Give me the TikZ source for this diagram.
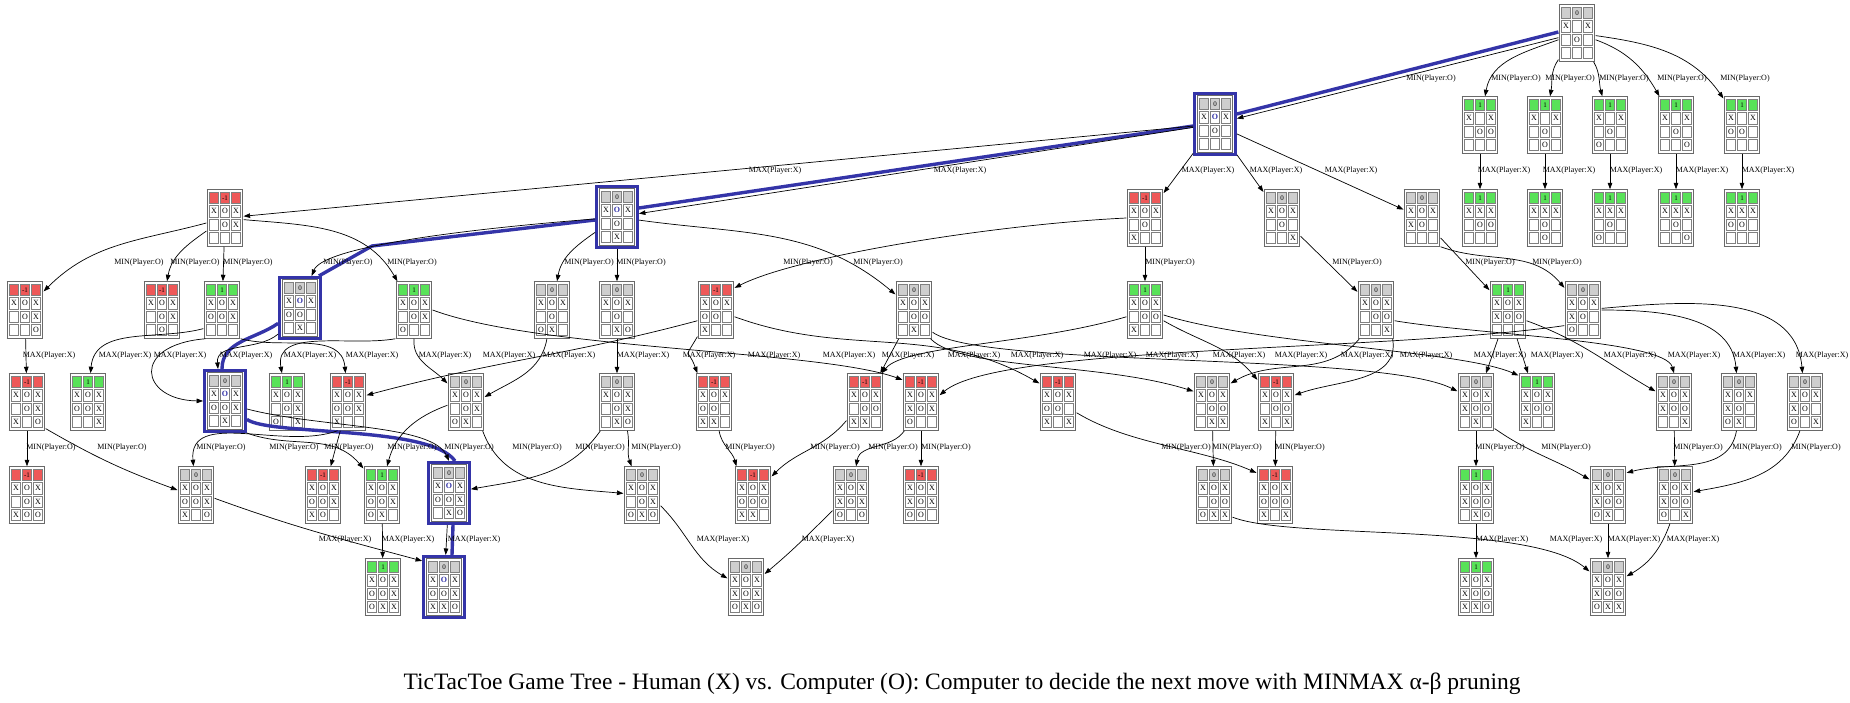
\documentclass[tikz,border=0pt]{standalone}
\usepackage{fontspec}
\setmainfont{Liberation Serif}
\usetikzlibrary{arrows.meta}

\definecolor{valred}{RGB}{238,88,88}
\definecolor{valgreen}{RGB}{88,226,88}
\definecolor{valgray}{RGB}{206,206,206}
\definecolor{cellline}{RGB}{128,128,128}
\definecolor{frameline}{RGB}{105,105,105}
\definecolor{pathblue}{RGB}{52,52,168}

% one cell of a board
\newcommand{\cel}[2]{{\setlength{\fboxsep}{0pt}\setlength{\fboxrule}{0.6pt}%
  \fcolorbox{cellline}{#1}{\makebox[8.4pt]{\rule[-2.9pt]{0pt}{10.7pt}#2}}}}
% . = empty, b = the chosen O
\newcommand{\csym}[1]{\if#1.\else\if#1b\textcolor{pathblue}{\bfseries O}\else#1\fi\fi}
\newcommand{\brow}[3]{\hbox{\cel{white}{\csym#1}\hskip1.5pt\cel{white}{\csym#2}\hskip1.5pt\cel{white}{\csym#3}}}
% value row + 3x3 board
\newcommand{\board}[5]{{\setlength{\fboxsep}{1.5pt}\setlength{\fboxrule}{1pt}%
  \fcolorbox{frameline}{white}{\vbox{\offinterlineskip\fontsize{8}{8}\selectfont
    \hbox{\cel{#1}{}\hskip1.5pt\cel{#1}{\fontsize{7}{7}\selectfont#2}\hskip1.5pt\cel{#1}{}}%
    \vskip1.5pt\brow#3\vskip1.5pt\brow#4\vskip1.5pt\brow#5}}}}

\begin{document}
\begin{tikzpicture}[x=1pt,y=-1pt,
  brd/.style={inner sep=0pt},
  chosen/.style={draw=pathblue,line width=2.6pt,inner sep=2.2pt},
  lbl/.style={font=\fontsize{8}{9}\selectfont,inner sep=0pt},
  mv/.style={draw,line width=0.7pt,-{Triangle[length=6.5pt,width=4.6pt]}},
  hl/.style={draw=pathblue,line width=3.4pt,line join=round}]
\useasboundingbox (0,0) rectangle (1850,702);

% level 0
\node[brd] (root) at (1577,33) {\board{valgray}{0}{X.X}{.O.}{...}};
% level 1
\node[chosen] (a) at (1215,124) {\board{valgray}{0}{XbX}{.O.}{...}};
\node[brd] (g1) at (1480,125) {\board{valgreen}{1}{X.X}{.OO}{...}};
\node[brd] (g2) at (1545,125) {\board{valgreen}{1}{X.X}{.O.}{.O.}};
\node[brd] (g3) at (1610,125) {\board{valgreen}{1}{X.X}{.O.}{O..}};
\node[brd] (g4) at (1676,125) {\board{valgreen}{1}{X.X}{.O.}{..O}};
\node[brd] (g5) at (1742,125) {\board{valgreen}{1}{X.X}{OO.}{...}};
% level 2
\node[brd] (ra) at (225,218) {\board{valred}{-1}{XOX}{.OX}{...}};
\node[chosen] (b) at (617,217) {\board{valgray}{0}{XbX}{.O.}{.X.}};
\node[brd] (rb) at (1145,218) {\board{valred}{-1}{XOX}{.O.}{X..}};
\node[brd] (rc) at (1282,218) {\board{valgray}{0}{XOX}{.O.}{..X}};
\node[brd] (rd) at (1422,218) {\board{valgray}{0}{XOX}{XO.}{...}};
\node[brd] (h1) at (1480,218) {\board{valgreen}{1}{XXX}{.OO}{...}};
\node[brd] (h2) at (1545,218) {\board{valgreen}{1}{XXX}{.O.}{.O.}};
\node[brd] (h3) at (1610,218) {\board{valgreen}{1}{XXX}{.O.}{O..}};
\node[brd] (h4) at (1676,218) {\board{valgreen}{1}{XXX}{.O.}{..O}};
\node[brd] (h5) at (1742,218) {\board{valgreen}{1}{XXX}{OO.}{...}};
% level 3
\node[brd] (s1) at (25,310) {\board{valred}{-1}{XOX}{.OX}{..O}};
\node[brd] (s2) at (162,310) {\board{valred}{-1}{XOX}{.OX}{.O.}};
\node[brd] (s3) at (222,310) {\board{valgreen}{1}{XOX}{OOX}{...}};
\node[chosen] (c) at (300,308) {\board{valgray}{0}{XbX}{OO.}{.X.}};
\node[brd] (s5) at (414,310) {\board{valgreen}{1}{XOX}{.OX}{O..}};
\node[brd] (s6) at (552,310) {\board{valgray}{0}{XOX}{.O.}{OX.}};
\node[brd] (s7) at (617,310) {\board{valgray}{0}{XOX}{.O.}{.XO}};
\node[brd] (s8) at (716,310) {\board{valred}{-1}{XOX}{OO.}{X..}};
\node[brd] (s9) at (914,310) {\board{valgray}{0}{XOX}{.OO}{.X.}};
\node[brd] (s10) at (1145,310) {\board{valgreen}{1}{XOX}{.OO}{X..}};
\node[brd] (s11) at (1376,310) {\board{valgray}{0}{XOX}{.OO}{..X}};
\node[brd] (s12) at (1508,310) {\board{valgreen}{1}{XOX}{XOO}{...}};
\node[brd] (s13) at (1583,310) {\board{valgray}{0}{XOX}{XO.}{O..}};
% level 4
\node[brd] (t1) at (27,402) {\board{valred}{-1}{XOX}{.OX}{X.O}};
\node[brd] (t2) at (88,402) {\board{valgreen}{1}{XOX}{OOX}{..X}};
\node[chosen] (d) at (225,401) {\board{valgray}{0}{XbX}{OOX}{.X.}};
\node[brd] (t4) at (287,402) {\board{valgreen}{1}{XOX}{.OX}{O.X}};
\node[brd] (t5) at (348,402) {\board{valred}{-1}{XOX}{OOX}{X..}};
\node[brd] (t6) at (466,402) {\board{valgray}{0}{XOX}{.OX}{OX.}};
\node[brd] (t7) at (617,402) {\board{valgray}{0}{XOX}{.OX}{.XO}};
\node[brd] (t8) at (714,402) {\board{valred}{-1}{XOX}{OO.}{XX.}};
\node[brd] (t9) at (865,402) {\board{valred}{-1}{XOX}{.OO}{XX.}};
\node[brd] (t10) at (921,402) {\board{valred}{-1}{XOX}{XOX}{O..}};
\node[brd] (t11) at (1058,402) {\board{valred}{-1}{XOX}{OO.}{X.X}};
\node[brd] (t12) at (1212,402) {\board{valgray}{0}{XOX}{.OO}{.XX}};
\node[brd] (t13) at (1276,402) {\board{valred}{-1}{XOX}{.OO}{X.X}};
\node[brd] (t14) at (1476,402) {\board{valgray}{0}{XOX}{XOO}{.X.}};
\node[brd] (t15) at (1537,402) {\board{valgreen}{1}{XOX}{XOO}{X..}};
\node[brd] (t16) at (1674,402) {\board{valgray}{0}{XOX}{XOO}{..X}};
\node[brd] (t17) at (1739,402) {\board{valgray}{0}{XOX}{XO.}{OX.}};
\node[brd] (t18) at (1805,402) {\board{valgray}{0}{XOX}{XO.}{O.X}};
% level 5
\node[brd] (u1) at (27,495) {\board{valred}{-1}{XOX}{.OX}{XOO}};
\node[brd] (u2) at (196,495) {\board{valgray}{0}{XOX}{OOX}{X.O}};
\node[brd] (u3) at (323,495) {\board{valred}{-1}{XOX}{OOX}{XO.}};
\node[brd] (u4) at (382,495) {\board{valgreen}{1}{XOX}{OOX}{OX.}};
\node[chosen] (e) at (449,493) {\board{valgray}{0}{XbX}{OOX}{.XO}};
\node[brd] (u6) at (642,495) {\board{valgray}{0}{XOX}{.OX}{OXO}};
\node[brd] (u7) at (753,495) {\board{valred}{-1}{XOX}{OOO}{XX.}};
\node[brd] (u8) at (851,495) {\board{valgray}{0}{XOX}{XOX}{O.O}};
\node[brd] (u9) at (921,495) {\board{valred}{-1}{XOX}{XOX}{OO.}};
\node[brd] (u10) at (1214,495) {\board{valgray}{0}{XOX}{.OO}{OXX}};
\node[brd] (u11) at (1275,495) {\board{valred}{-1}{XOX}{OOO}{X.X}};
\node[brd] (u12) at (1476,495) {\board{valgreen}{1}{XOX}{XOO}{.XO}};
\node[brd] (u13) at (1608,495) {\board{valgray}{0}{XOX}{XOO}{OX.}};
\node[brd] (u14) at (1675,495) {\board{valgray}{0}{XOX}{XOO}{O.X}};
% level 6
\node[brd] (v1) at (383,587) {\board{valgreen}{1}{XOX}{OOX}{OXX}};
\node[chosen] (f) at (444,587) {\board{valgray}{0}{XbX}{OOX}{XXO}};
\node[brd] (v3) at (746,587) {\board{valgray}{0}{XOX}{XOX}{OXO}};
\node[brd] (v4) at (1476,587) {\board{valgreen}{1}{XOX}{XOO}{XXO}};
\node[brd] (v5) at (1608,587) {\board{valgray}{0}{XOX}{XOO}{OXX}};

% chosen line
\draw[hl] ([yshift=1pt]root.west) -- ([yshift=10pt]a.east);
\draw[hl] ([yshift=-2pt]a.west) -- ([yshift=9pt]b.east);
\draw[hl] ([yshift=-3pt]b.west) -- (372,246) -- ([xshift=-3pt]c.north east);
\draw[hl] (c.215) to[out=215,in=90] ([xshift=-3pt]d.north);
\draw[hl] (d.320) .. controls (270,436) and (430,425) .. ([xshift=6pt]e.north);
\draw[hl] ([xshift=4pt]e.south) -- ([xshift=8pt]f.north);

% level 0 -> 1
\draw[mv] (root) -- (a);
\draw[mv] (root) to[out=200,in=80] (g1);
\draw[mv] (root) to[out=235,in=80] (g2);
\draw[mv] (root) to[out=300,in=105] (g3);
\draw[mv] (root) to[out=340,in=120] (g4);
\draw[mv] (root) to[out=-8,in=125] (g5);
% level 1 -> 2
\draw[mv] (a) -- (ra);
\draw[mv] (a) -- (b);
\draw[mv] (a) -- (rb);
\draw[mv] (a) -- (rc);
\draw[mv] (a) -- (rd);
\foreach \i in {1,...,5} \draw[mv] (g\i) -- (h\i);
% level 2 -> 3
\draw[mv] (ra) to[out=195,in=45] (s1);
\draw[mv] (ra) to[out=215,in=80] (s2);
\draw[mv] (ra) -- (s3);
\draw[mv] (ra) to[out=-5,in=120] (s5);
\draw[mv] (b.185) .. controls (430,232) and (322,250) .. (c.70);
\draw[mv] (b) to[out=215,in=80] (s6);
\draw[mv] (b) -- (s7);
\draw[mv] (b) to[out=-8,in=140] (s9);
\draw[mv] (rb.180) .. controls (1000,224) and (800,255) .. (s8.50);
\draw[mv] (rb) -- (s10);
\draw[mv] (rc) -- (s11);
\draw[mv] (rd) -- (s12);
\draw[mv] (rd.south east) to[out=-20,in=130] (s13);
% level 3 -> 4
\draw[mv] (s1) -- (t1);
\draw[mv] (s3.225) to[out=195,in=85] (t2);
\draw[mv] (s3.240) .. controls (130,345) and (140,400) .. (d.west);
\draw[mv] (c.230) to[out=220,in=95] ([xshift=-7pt]d.north);
\draw[mv] (s5.south west) to[out=190,in=100] (t4);
\draw[mv] (s3.south east) to[out=-15,in=95] (t5);
\draw[mv] (s8.210) to[out=195,in=15] (t5.20);
\draw[mv] (s5.270) to[out=265,in=135] (t6.135);
\draw[mv] (s6.260) to[out=260,in=30] (t6.15);
\draw[mv] (s7) -- (t7);
\draw[mv] (s8.235) to[out=240,in=110,looseness=2] (t8.120);
\draw[mv] (s9) -- (t9);
\draw[mv] (s10.200) .. controls (1030,345) and (905,345) .. (t9.60);
\draw[mv] (s5.east) .. controls (540,350) and (820,350) .. (t10.130);
\draw[mv] (s13.220) .. controls (1380,352) and (1000,345) .. (t10.20);
\draw[mv] (s8.340) to[out=-20,in=150] (t11.135);
\draw[mv] (s11.240) to[out=230,in=30] (t12.45);
\draw[mv] (s9.300) .. controls (960,370) and (1100,362) .. (t12.150);
\draw[mv] (s11.300) to[out=280,in=20] (t13.20);
\draw[mv] (s10.330) to[out=-30,in=130] (t13.130);
\draw[mv] (s9.310) .. controls (980,368) and (1380,352) .. (t14.150);
\draw[mv] (s12) -- (t14);
\draw[mv] (s10.345) .. controls (1260,345) and (1460,350) .. (t15.125);
\draw[mv] (s12) -- (t15);
\draw[mv] (s11.330) .. controls (1480,335) and (1665,340) .. (t16.north);
\draw[mv] (s12.330) to[out=-20,in=150] (t16.150);
\draw[mv] (s13) to[out=0,in=95] (t17);
\draw[mv] (s13) to[out=5,in=95] (t18);
% level 4 -> 5
\draw[mv] (t1) -- (u1);
\draw[mv] (t1.305) to[out=-30,in=160] (u2.165);
\draw[mv] (t5.250) to[out=200,in=95] (u2.95);
\draw[mv] (t5) -- (u3);
\draw[mv] (d.south east) to[out=-20,in=130] (u4.125);
\draw[mv] (d.340) .. controls (320,428) and (432,424) .. (e.north);
\draw[mv] (t6.190) to[out=200,in=75] (u4.80);
\draw[mv] (t6.300) to[out=290,in=175] (u6.175);
\draw[mv] (t7.240) to[out=235,in=10] (e.10);
\draw[mv] (t7.290) to[out=280,in=110] (u6.110);
\draw[mv] (t8.280) to[out=280,in=105] (u7.120);
\draw[mv] (t9.225) to[out=230,in=45] (u7.45);
\draw[mv] (t10.240) to[out=235,in=80] (u8.80);
\draw[mv] (t10) -- (u9);
\draw[mv] (t11.330) .. controls (1130,445) and (1200,448) .. (u11.130);
\draw[mv] (t12) -- (u10);
\draw[mv] (t13) -- (u11);
\draw[mv] (t14) -- (u12);
\draw[mv] (t14.305) to[out=-35,in=150] (u13.140);
\draw[mv] (t16) -- (u14);
\draw[mv] (t17.265) to[out=260,in=15] (u13.50);
\draw[mv] (t18.260) to[out=250,in=10] (u14.10);
% level 5 -> 6
\draw[mv] (u2.350) to[out=-20,in=165] (f.130);
\draw[mv] (u4) -- (v1);
\draw[mv] (e) -- (f);
\draw[mv] (u6.330) to[out=-45,in=150] (v3.155);
\draw[mv] (u8.220) to[out=225,in=40] (v3.35);
\draw[mv] (u12) -- (v4);
\draw[mv] (u10.310) .. controls (1290,540) and (1530,522) .. (v5.140);
\draw[mv] (u13) -- (v5);
\draw[mv] (u14.260) to[out=250,in=30] (v5.30);

% move labels
\foreach \x [count=\i] in {1431,1516,1570,1624,1682,1745}
  \node[lbl] (ma\i) at (\x,79) {MIN(Player:O)};
\foreach \x [count=\i] in {775,960,1208,1276,1351,1504,1569,1636,1702,1768}
  \node[lbl] (mb\i) at (\x,171) {MAX(Player:X)};
\foreach \x [count=\i] in {139,195,248,348,412,589,641,808,878,1170,1357,1490,1557}
  \node[lbl] (mc\i) at (\x,263) {MIN(Player:O)};
\foreach \x [count=\i] in {49,125,180,246,310,372,445,509,569,643,709,774,849,908,974,1037,1110,1172,1239,1301,1367,1426,1500,1557,1630,1694,1759,1822}
  \node[lbl] (md\i) at (\x,356) {MAX(Player:X)};
\foreach \x [count=\i] in {51,122,221,294,349,412,469,537,600,656,750,835,893,946,1186,1237,1300,1500,1566,1698,1757,1816}
  \node[lbl] (me\i) at (\x,448) {MIN(Player:O)};
\foreach \x [count=\i] in {345,408,474,723,828,1502,1576,1634,1693}
  \node[lbl] (mf\i) at (\x,540) {MAX(Player:X)};

\node (title) at (962,684) {\fontsize{23.5}{28}\selectfont TicTacToe Game Tree - Human (X) vs. Computer (O): Computer to decide the next move with MINMAX α-β pruning};
\end{tikzpicture}
\end{document}
